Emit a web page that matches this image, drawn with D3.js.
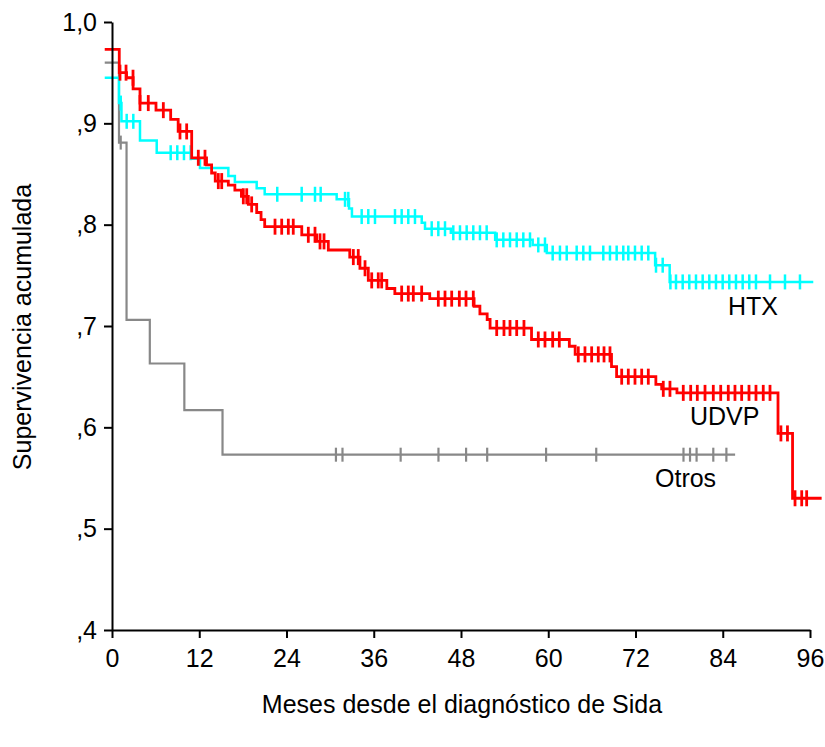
<!DOCTYPE html>
<html>
<head>
<meta charset="utf-8">
<script src="https://cdn.jsdelivr.net/npm/d3@7"></script>
<style>
  body { margin: 0; background: #fff; }
  text { font-family: "Liberation Sans", Arial, sans-serif; }
</style>
</head>
<body>
<div id="chart"></div>
<script>
// survival data (months, cumulative survival)

var startMonth = -1;

var udvpTimes = [startMonth, 1.0, 2.0, 2.9, 3.85, 6.05, 8.07, 9.1, 10.96, 13.0, 13.7, 14.2, 16.0, 16.9, 17.8, 18.75, 19.9, 20.5, 21.0,
  26.1, 28.15, 29.75, 32.7, 34.1, 35.25, 37.8, 38.9, 43.7, 49.8, 50.6, 51.6, 52.0, 57.7, 62.9, 63.7, 68.7, 69.4,
  74.8, 75.6, 77.7, 91.6, 93.6];
var udvpSurv = [0.973, 0.950, 0.945, 0.934, 0.920, 0.913, 0.904, 0.892, 0.866, 0.859, 0.851, 0.843, 0.839, 0.834, 0.828, 0.820, 0.812, 0.805, 0.798,
  0.790, 0.7835, 0.775, 0.768, 0.757, 0.745, 0.737, 0.732, 0.727, 0.7195, 0.712, 0.7064, 0.698, 0.6867, 0.680, 0.672, 0.660, 0.650,
  0.6424, 0.638, 0.634, 0.594, 0.530];
var udvpEnd = 97.6;
var udvpCensored = [1.1, 1.93, 2.89, 3.85, 4.99, 7.06, 9.35, 10.27, 11.87, 12.79, 14.62, 15.09, 18.06, 18.53, 19.21, 22.42, 23.34, 24.25, 24.93,
  27.0, 27.92, 28.61, 29.16, 33.19, 33.87, 34.8, 35.72, 36.62, 37.09, 39.84, 40.75, 41.44, 42.59, 44.88, 45.8, 46.72, 47.77, 48.69, 49.69,
  52.91, 53.91, 54.74, 55.66, 56.66, 58.63, 59.55, 60.61, 61.52, 64.13, 65.05, 65.97, 66.88, 67.67, 68.49, 70.1, 71.01, 71.93, 72.85, 73.76,
  75.82, 76.74, 78.57, 79.59, 80.5, 81.56, 82.7, 83.72, 84.76, 85.68, 86.6, 87.61, 88.57, 89.57, 90.5, 92.0, 92.9, 93.94, 94.86, 95.54];

var htxTimes = [startMonth, 0.96, 1.3, 3.85, 6.15, 10.96, 12.1, 16.0, 16.9, 19.9, 21.0, 30.9, 32.6, 33.0, 42.6, 43.05, 46.6, 52.7, 57.86, 59.8, 74.7, 76.7];
var htxSurv = [0.945, 0.920, 0.902, 0.883, 0.871, 0.865, 0.856, 0.848, 0.842, 0.836, 0.830, 0.825, 0.816, 0.808, 0.802, 0.796, 0.792, 0.785, 0.780, 0.772, 0.760, 0.7435];
var htxEnd = 96.45;
var htxCensored = [1.2, 2.02, 2.93, 8.07, 8.98, 9.9, 10.82, 22.73, 26.09, 27.92, 28.7, 32.05, 32.5, 34.34, 35.25, 36.17, 38.92, 39.84, 40.75, 41.67,
  43.97, 44.88, 45.8, 46.94, 47.86, 48.78, 49.69, 50.61, 51.53, 52.91, 53.82, 54.74, 55.66, 56.57, 57.49, 58.63, 59.55, 60.61, 61.61, 62.54,
  63.91, 64.82, 65.74, 67.57, 68.49, 69.41, 70.32, 71.01, 71.93, 72.85, 73.76, 74.82, 75.74, 76.8, 77.57, 78.49, 79.4, 80.32, 81.24, 82.15,
  83.07, 83.99, 84.9, 85.82, 86.74, 87.65, 88.57, 90.5, 92.56, 94.62];

var otrosTimes = [startMonth, 0.96, 2.0, 5.2, 9.95, 15.2];
var otrosSurv = [0.96, 0.881, 0.706, 0.663, 0.617, 0.573];
var otrosEnd = 85.7;
var otrosCensored = [1.2, 30.8, 31.7, 39.7, 44.9, 48.7, 51.6, 59.7, 66.6, 78.6, 79.5, 80.4, 82.7, 84.5];

var xTicks = [0, 12, 24, 36, 48, 60, 72, 84, 96];
var yTicks = [0.4, 0.5, 0.6, 0.7, 0.8, 0.9, 1.0];

// svg

var svgWidth = 825;
var svgHeight = 747;

var svg = d3.select("#chart")
  .append("svg")
  .attr("width", svgWidth)
  .attr("height", svgHeight);

var xScale = d3.scaleLinear().domain([0, 96]).range([112, 810]);
var yScale = d3.scaleLinear().domain([0.4, 1.0]).range([630, 22]);

var groups = [
  { name: "Otros", times: otrosTimes, surv: otrosSurv, end: otrosEnd, cens: otrosCensored, color: "#888888", width: 2.2, half: 7 },
  { name: "HTX", times: htxTimes, surv: htxSurv, end: htxEnd, cens: htxCensored, color: "#00ffff", width: 2.5, half: 7.5 },
  { name: "UDVP", times: udvpTimes, surv: udvpSurv, end: udvpEnd, cens: udvpCensored, color: "#ff0000", width: 2.8, half: 8 }
];

var line = d3.line()
  .x(d => xScale(d[0]))
  .y(d => yScale(d[1]))
  .curve(d3.curveStepAfter);

groups.forEach(function(g) {
  var pts = g.times.map((t, i) => [t, g.surv[i]]);
  pts.push([g.end, g.surv[g.surv.length - 1]]);

  var grp = svg.append("g").attr("class", "curve");

  grp.append("path")
    .datum(pts)
    .attr("d", line)
    .attr("fill", "none")
    .attr("stroke", g.color)
    .attr("stroke-width", g.width);

  // censor marks
  function survAt(d) {
    var i = d3.bisectRight(g.times, d) - 1;
    return g.surv[Math.max(i, 0)];
  }

  grp.selectAll("line.cens")
    .data(g.cens)
    .enter()
    .append("line")
    .attr("class", "cens")
    .attr("x1", d => xScale(d))
    .attr("x2", d => xScale(d))
    .attr("y1", d => yScale(survAt(d)) - g.half)
    .attr("y2", d => yScale(survAt(d)) + g.half)
    .attr("stroke", g.color)
    .attr("stroke-width", g.width);
});

// axes

var xAxis = d3.axisBottom(xScale).tickValues(xTicks).tickSize(8).tickSizeOuter(0);
var yAxis = d3.axisLeft(yScale).tickValues(yTicks).tickSize(8).tickSizeOuter(0)
  .tickFormat(d => d === 1 ? "1,0" : "," + Math.round(d * 10));

var gx = svg.append("g")
  .attr("transform", "translate(0,630)")
  .call(xAxis);

var gy = svg.append("g")
  .attr("transform", "translate(112,0)")
  .call(yAxis);

[gx, gy].forEach(function(g) {
  g.select(".domain").attr("stroke", "#000").attr("stroke-width", 2);
  g.selectAll(".tick line").attr("stroke", "#000").attr("stroke-width", 2);
  g.selectAll(".tick text")
    .attr("fill", "#000")
    .style("font-size", "25px")
    .style("font-family", "'Liberation Sans', Arial, sans-serif");
});

gx.selectAll(".tick text").attr("y", 37).attr("dy", 0);
gy.selectAll(".tick text").attr("x", -15);

// axis titles

svg.append("text")
  .attr("x", 462)
  .attr("y", 713)
  .attr("text-anchor", "middle")
  .style("font-size", "25px")
  .text("Meses desde el diagnóstico de Sida");

svg.append("text")
  .attr("transform", "translate(31,327) rotate(-90)")
  .attr("text-anchor", "middle")
  .style("font-size", "25px")
  .text("Supervivencia acumulada");

// curve labels

var labelPos = [
  { text: "HTX", x: 728, y: 315 },
  { text: "UDVP", x: 690, y: 425 },
  { text: "Otros", x: 655, y: 487 }
];

svg.selectAll("text.lab")
  .data(labelPos)
  .enter()
  .append("text")
  .attr("class", "lab")
  .attr("x", d => d.x)
  .attr("y", d => d.y)
  .style("font-size", "25px")
  .text(d => d.text);
</script>
</body>
</html>
